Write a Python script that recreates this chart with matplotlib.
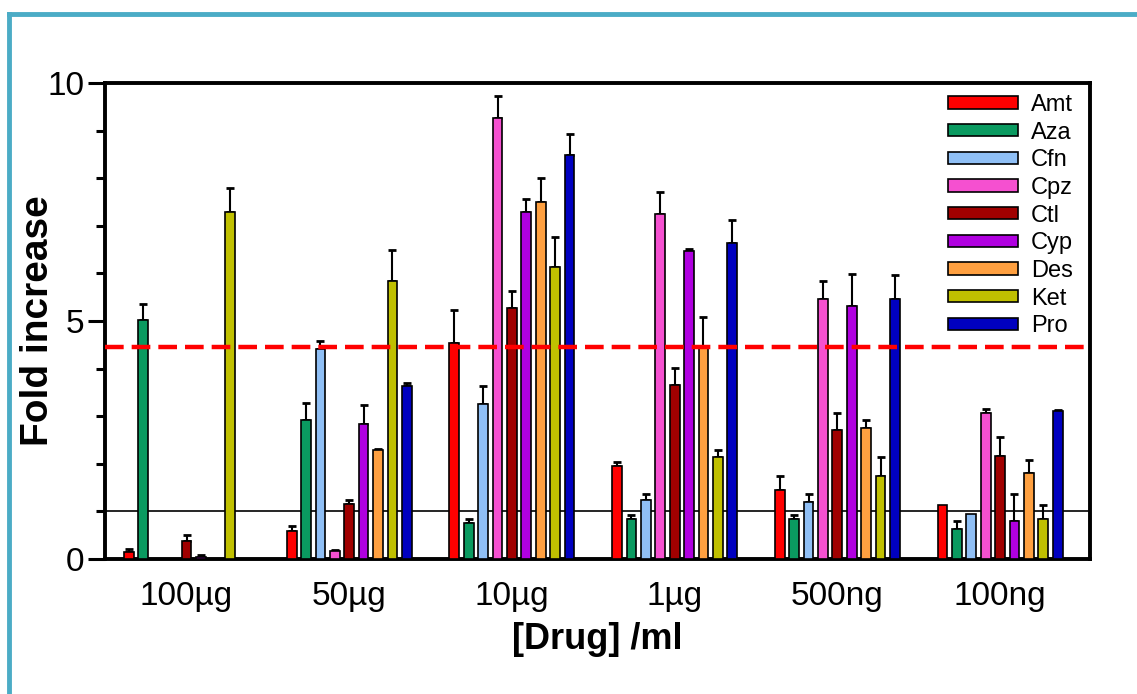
import matplotlib
matplotlib.use("Agg")
import matplotlib.pyplot as plt
import numpy as np
from matplotlib.lines import Line2D
from matplotlib.ticker import MultipleLocator

plt.rcParams['font.family'] = ['Liberation Sans', 'DejaVu Sans']

groups = ["100µg", "50µg", "10µg", "1µg", "500ng", "100ng"]
drugs = ["Amt", "Aza", "Cfn", "Cpz", "Ctl", "Cyp", "Des", "Ket", "Pro"]
colors = ["#FF0000", "#0A9A60", "#8FBFF5", "#F550D0", "#A00000",
          "#B000E0", "#FFA040", "#C0C000", "#0000C0"]

# values[drug] = per group (100µg, 50µg, 10µg, 1µg, 500ng, 100ng)
amt = [0.15, 0.59, 4.53, 1.96, 1.45, 1.14]
aza = [5.02, 2.92, 0.76, 0.85, 0.85, 0.64]
cfn = [0.0, 4.41, 3.26, 1.24, 1.20, 0.95]
cpz = [0.0, 0.17, 9.26, 7.25, 5.47, 3.07]
ctl = [0.38, 1.15, 5.27, 3.66, 2.72, 2.17]
cyp = [0.05, 2.84, 7.28, 6.47, 5.32, 0.80]
des = [0.0, 2.28, 7.50, 4.45, 2.76, 1.81]
ket = [7.30, 5.85, 6.14, 2.14, 1.74, 0.85]
pro = [0.0, 3.64, 8.49, 6.63, 5.46, 3.11]

amt_err = [0.05, 0.11, 0.71, 0.07, 0.29, 0.0]
aza_err = [0.34, 0.36, 0.08, 0.07, 0.07, 0.15]
cfn_err = [0.0, 0.18, 0.37, 0.13, 0.17, 0.0]
cpz_err = [0.0, 0.01, 0.47, 0.45, 0.36, 0.08]
ctl_err = [0.12, 0.10, 0.37, 0.35, 0.35, 0.40]
cyp_err = [0.03, 0.39, 0.29, 0.04, 0.67, 0.56]
des_err = [0.0, 0.03, 0.51, 0.64, 0.15, 0.28]
ket_err = [0.50, 0.64, 0.62, 0.14, 0.40, 0.29]
pro_err = [0.0, 0.06, 0.44, 0.49, 0.51, 0.02]

values = [amt, aza, cfn, cpz, ctl, cyp, des, ket, pro]
errors = [amt_err, aza_err, cfn_err, cpz_err, ctl_err, cyp_err, des_err, ket_err, pro_err]

threshold = 4.45
baseline = 1.0

fig = plt.figure(figsize=(11.37, 6.94), dpi=100)
ax = fig.add_axes([105/1137, 1 - 559/694, (1090-105)/1137, (559-83)/694])

x = np.arange(len(groups))
step = 0.0885
width = 0.06
for j, (d, c) in enumerate(zip(drugs, colors)):
    pos = x + (j - 4) * step
    v = np.array(values[j])
    e = np.array(errors[j])
    ax.bar(pos, v, width=width, color=c, edgecolor="black", linewidth=1.2,
           label=d, zorder=3)
    mask = e > 0
    ax.errorbar(pos[mask], v[mask], yerr=[np.zeros(mask.sum()), e[mask]],
                fmt="none", ecolor="black", elinewidth=1.5, capsize=3.2,
                capthick=2, zorder=2)

ax.axhline(threshold, color="#FF0000", lw=3.2, dashes=(4.2, 1.8), zorder=4)
ax.axhline(baseline, color="black", lw=1.2, zorder=1.5)

ax.set_xlim(-0.501, 5.553)
ax.set_ylim(0, 10)
ax.set_xticks(x)
ax.set_xticklabels(groups, fontsize=24)
ax.tick_params(axis="x", length=0, pad=16)
ax.set_yticks([0, 5, 10])
ax.yaxis.set_minor_locator(MultipleLocator(1))
ax.tick_params(axis="y", which="major", length=12, width=2.2, labelsize=24, pad=3)
ax.tick_params(axis="y", which="minor", length=6.5, width=2.2)
for s in ax.spines.values():
    s.set_linewidth(2.8)

ax.set_ylabel("Fold increase", fontsize=28, fontweight="bold")
ax.yaxis.set_label_coords(-0.068, 0.5)
ax.yaxis.label.set_va("center")
ax.set_xlabel("[Drug] /ml", fontsize=26, fontweight="bold")
ax.xaxis.set_label_coords(0.5, -0.132)

leg = ax.legend(loc="upper left", bbox_to_anchor=((948-105)/985, (559-94)/476),
                frameon=False, fontsize=17, handlelength=2.95, handleheight=0.42,
                labelspacing=0.24, handletextpad=0.55, borderpad=0, borderaxespad=0)

# teal border framing the figure
border = "#4BACC6"
fig.add_artist(Line2D([9/1137, 9/1137], [0, 1 - 14/694], color=border, lw=3.5,
                      transform=fig.transFigure))
fig.add_artist(Line2D([9/1137, 1], [1 - 14/694, 1 - 14/694], color=border, lw=3.5,
                      transform=fig.transFigure))

fig.savefig("out.png", dpi=100)
